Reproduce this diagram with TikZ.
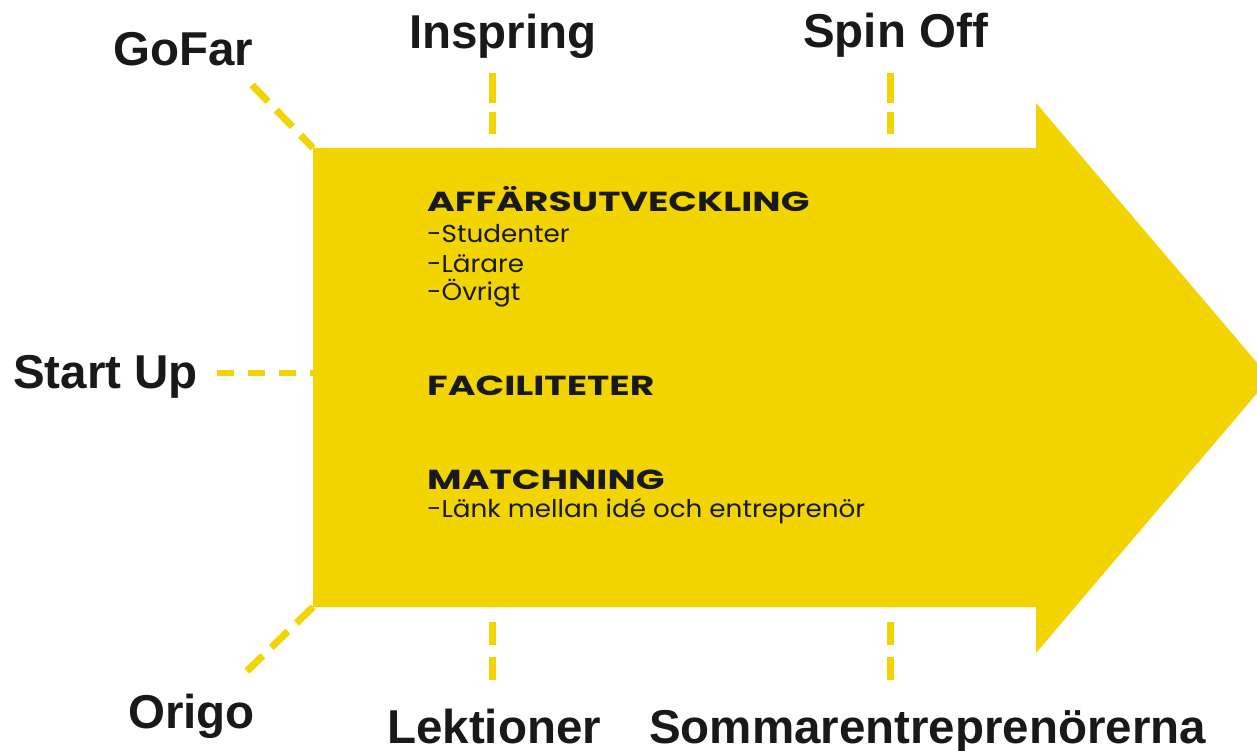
\documentclass[tikz,border=0pt]{standalone}
\usepackage{fontspec}
\setmainfont{Liberation Sans}
\newfontfamily\geohead[FakeStretch=1.37]{Poppins}
\newfontfamily\geosub[FakeStretch=1.07]{Poppins}
\definecolor{arrowyellow}{RGB}{242,213,0}
\begin{document}
\begin{tikzpicture}[x=1pt,y=-1pt,
  outer/.style={inner sep=0pt,anchor=base west,font=\fontsize{47.5}{50}\selectfont\bfseries,text=black!90},
  head/.style={inner sep=0pt,anchor=base west,font=\geohead\fontsize{27.5}{30}\selectfont\bfseries,text=black!90},
  sub/.style={inner sep=0pt,anchor=base west,font=\geosub\fontsize{24.5}{26}\selectfont,text=black!90},
  dashv/.style={draw=arrowyellow,line width=7pt,dash pattern=on 30pt off 9pt},
  dashd/.style={draw=arrowyellow,line width=7pt,dash pattern=on 23pt off 12pt},
  dashh/.style={draw=arrowyellow,line width=6pt,dash pattern=on 17pt off 14pt}]
\useasboundingbox (0,0) rectangle (1257,751);
\clip (0,0) rectangle (1257,751);
\fill[white] (0,0) rectangle (1257,751);
% arrow
\fill[arrowyellow] (313,148) -- (1036,148) -- (1036,103) -- (1270,378) -- (1036,653) -- (1036,607) -- (313,607) -- cycle;
\coordinate (tl) at (313,148);
\coordinate (bl) at (313,607);
\coordinate (ml) at (313,373);
% labels
\node[outer] (gofar) at (113,66) {GoFar};
\node[outer] (inspring) at (409,49) {Inspring};
\node[outer] (spinoff) at (803,48) {Spin Off};
\node[outer] (startup) at (13,388) {Start Up};
\node[outer] (origo) at (128,728) {Origo};
\node[outer] (lektioner) at (387,743) {Lektioner};
\node[outer] (sommar) at (649,743) {Sommarentreprenörerna};
% dash end points
\coordinate (g1) at (252,85);
\coordinate (i1) at (492,73);
\coordinate (i2) at (492,134);
\coordinate (s1) at (890,73);
\coordinate (s2) at (890,134);
\coordinate (u1) at (217,373);
\coordinate (o1) at (247,671);
\coordinate (l1) at (492,622);
\coordinate (l2) at (492,682);
\coordinate (m1) at (890,622);
\coordinate (m2) at (890,682);
\draw[dashd] (g1) -- (tl);
\draw[dashv] (i1) -- (i2);
\draw[dashv] (s1) -- (s2);
\draw[dashh] (u1) -- (ml);
\draw[dashd] (bl) -- (o1);
\draw[dashd] (l1) -- (l2);
\draw[dashd] (m1) -- (m2);
% inner text
\node[head] (aff) at (427,212) {AFFÄRSUTVECKLING};
\node[sub] (stud) at (427,243) {-Studenter};
\node[sub] (lar) at (427,272) {-Lärare};
\node[sub] (ovr) at (427,300) {-Övrigt};
\node[head] (fac) at (427,395) {FACILITETER};
\node[head] (mat) at (427,489) {MATCHNING};
\node[sub] (lank) at (427,517) {-Länk mellan idé och entreprenör};
\end{tikzpicture}
\end{document}
